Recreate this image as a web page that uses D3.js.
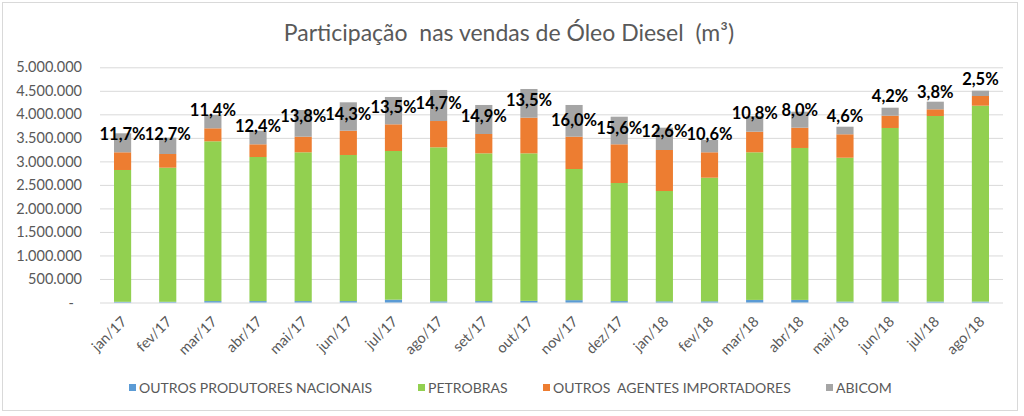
<!DOCTYPE html>
<html>
<head>
<meta charset="utf-8">
<script src="https://cdn.jsdelivr.net/npm/d3@7"></script>
<style>
  html, body { margin: 0; padding: 0; background: #fff; }
  svg { display: block; }
  text { font-family: Lato, "Open Sans", sans-serif; }
</style>
</head>
<body>
<svg id="chart" width="1024" height="416"></svg>
<script>
// ---- data (m³) ----
const months = ["jan/17","fev/17","mar/17","abr/17","mai/17","jun/17","jul/17","ago/17","set/17","out/17","nov/17","dez/17",
                "jan/18","fev/18","mar/18","abr/18","mai/18","jun/18","jul/18","ago/18"];
const outrosProdutores = [15000,15000,30000,30000,30000,30000,60000,25000,30000,35000,50000,30000,
                          25000,25000,55000,55000,20000,20000,20000,20000];
const petrobras = [2802000,2851000,3397000,3063000,3163000,3106000,3161000,3274000,3141000,3136000,2788000,2510000,
                   2345000,2628000,3138000,3230000,3058000,3690000,3945000,4164000];
const outrosImportadores = [376000,291000,276000,270000,332000,516000,567000,559000,411000,758000,687000,823000,
                            872000,540000,438000,431000,498000,261000,142000,206000];
const abicom = [404000,346000,283000,289000,567000,604000,581000,660000,617000,610000,674000,587000,
                474000,262000,334000,340000,161000,170000,162000,113000];
const shareLabels = ["11,7%","12,7%","11,4%","12,4%","13,8%","14,3%","13,5%","14,7%","14,9%","13,5%","16,0%","15,6%",
                     "12,6%","10,6%","10,8%","8,0%","4,6%","4,2%","3,8%","2,5%"];
// value (m³) at which each share label is centred
const labelAt = [3571000,3571000,4082000,3742000,3954000,4007000,4156000,4241000,3965000,4305000,3880000,3710000,
                 3635000,3582000,4029000,4092000,3965000,4379000,4475000,4751000];
const yTicks = [0,500000,1000000,1500000,2000000,2500000,3000000,3500000,4000000,4500000,5000000];
const seriesNames = ["OUTROS PRODUTORES NACIONAIS","PETROBRAS","OUTROS  AGENTES IMPORTADORES","ABICOM"];
const seriesColors = ["#5b9bd5","#92d050","#ed7d31","#a5a5a5"];
const title = "Participação  nas vendas de Óleo Diesel  (m³)";

// ---- build table ----
const keys = ["prod","petro","imp","abi"];
const table = months.map((m,i) => ({month:m, prod:outrosProdutores[i], petro:petrobras[i], imp:outrosImportadores[i], abi:abicom[i]}));
const stacked = d3.stack().keys(keys)(table);

const svg = d3.select("#chart");
const pLeft = 100, pRight = 1003, pTop = 67.3, pBottom = 302.5;

// border
svg.append("rect").attr("x",2.5).attr("y",2.5).attr("width",1015).attr("height",408)
  .attr("fill","#fff").attr("stroke","#d9d9d9").attr("stroke-width",1);

const x = d3.scaleBand().domain(months).range([pLeft,pRight]).paddingInner(0.62).paddingOuter(0.31);
const y = d3.scaleLinear().domain([0,5000000]).range([pBottom,pTop]);

const ptBR = d3.formatLocale({decimal:",", thousands:".", grouping:[3], currency:["R$",""]});
const fmt = ptBR.format(",.0f");

// gridlines + y labels
const yAxis = d3.axisLeft(y).tickValues(yTicks).tickSize(-(pRight-pLeft)).tickPadding(18)
  .tickFormat(d => d === 0 ? "-" : fmt(d));
const gy = svg.append("g").attr("transform",`translate(${pLeft},0)`).call(yAxis);
gy.select(".domain").remove();
gy.selectAll(".tick line").attr("stroke","#d9d9d9").attr("stroke-width",1);
gy.selectAll(".tick text").attr("fill","#595959").style("font-size","14.5px");
gy.selectAll(".tick").filter(d => d === 0).select("text").attr("dx",-8);

// bars
svg.append("g").selectAll("g").data(stacked).join("g")
  .attr("fill",(d,i) => seriesColors[i])
  .selectAll("rect").data(d => d).join("rect")
  .attr("x", d => x(d.data.month))
  .attr("width", x.bandwidth())
  .attr("y", d => y(d[1]))
  .attr("height", d => y(d[0]) - y(d[1]));

// x axis labels
const xAxis = d3.axisBottom(x).tickSize(0).tickPadding(0);
const gx = svg.append("g").attr("transform",`translate(0,${pBottom})`).call(xAxis);
gx.select(".domain").remove();
gx.selectAll(".tick text")
  .attr("fill","#595959").style("font-size","14.5px")
  .attr("text-anchor","end").attr("y",0).attr("dy",0)
  .attr("transform","translate(5,20) rotate(-45)");

// share labels
svg.append("g").selectAll("text").data(months).join("text")
  .attr("x", d => x(d) + x.bandwidth()/2)
  .attr("y", (d,i) => y(labelAt[i]))
  .attr("dy","0.35em")
  .attr("text-anchor","middle")
  .attr("fill","#000").style("font-weight","bold").style("font-size","16.5px")
  .text((d,i) => shareLabels[i]);

// title
svg.append("text").attr("x",509).attr("y",41).attr("text-anchor","middle")
  .attr("fill","#595959").style("font-size","23px").style("white-space","pre")
  .text(title);

// legend
const legendX = [129, 418, 543, 826];
const lg = svg.append("g").selectAll("g").data(seriesNames).join("g")
  .attr("transform",(d,i) => `translate(${legendX[i]},388)`);
lg.append("rect").attr("x",0).attr("y",-4).attr("width",7).attr("height",7)
  .attr("fill",(d,i) => seriesColors[i]);
lg.append("text").attr("x",10).attr("y",0).attr("dy","0.35em")
  .attr("fill","#595959").style("font-size","14px").style("white-space","pre")
  .text(d => d);
</script>
</body>
</html>
